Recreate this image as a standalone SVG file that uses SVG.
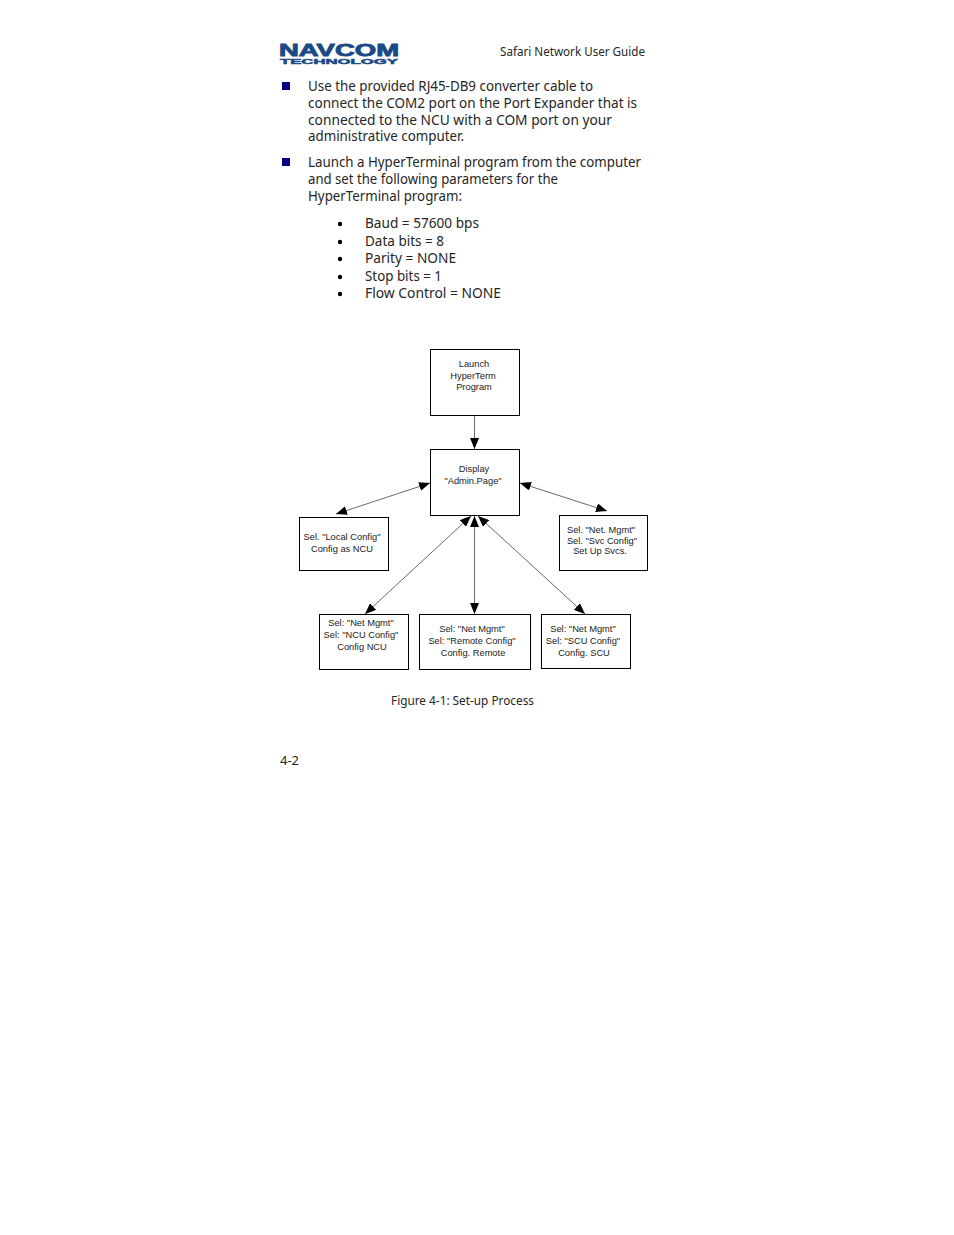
<svg xmlns="http://www.w3.org/2000/svg" width="954" height="1235" viewBox="0 0 954 1235">
<style>
text{font-family:"Noto Sans","Open Sans","Liberation Sans",sans-serif;fill:#262626}
.b{font-size:14px}
.n{font-family:"Liberation Sans",Arial,sans-serif;font-size:9.3px;text-anchor:middle;fill:#222}
.box{fill:#fff;stroke:#000;stroke-width:1}
.c{stroke:#444;stroke-width:.8;fill:none;marker-end:url(#a)}
.d{marker-start:url(#s)}
.sq{fill:#000080}
.dot{fill:#000}
.logo{font-family:"Liberation Sans",Arial,sans-serif;font-weight:700;fill:#1b4a86}
</style>
<defs>
<marker id="a" viewBox="0 0 11 9" refX="11" refY="4.500" markerWidth="11" markerHeight="9" markerUnits="userSpaceOnUse" orient="auto"><path d="M0 0L11 4.500L0 9z" fill="#000"/></marker>
<marker id="s" viewBox="0 0 11 9" refX="0" refY="4.500" markerWidth="11" markerHeight="9" markerUnits="userSpaceOnUse" orient="auto"><path d="M11 0L0 4.500L11 9z" fill="#000"/></marker>
</defs>
<rect width="954" height="1235" fill="#fff"/>
<g id="logo">
<text class="logo" x="279" y="56" font-size="16" textLength="120" lengthAdjust="spacingAndGlyphs" stroke="#1b4a86" stroke-width=".8">NAVCOM</text>
<text class="logo" x="280" y="64" font-size="8" textLength="118" lengthAdjust="spacingAndGlyphs" stroke="#1b4a86" stroke-width=".5">TECHNOLOGY</text>
</g>
<text x="500" y="56" font-size="12.500" textLength="145" lengthAdjust="spacingAndGlyphs">Safari Network User Guide</text>
<rect class="sq" x="282" y="82" width="8" height="8"/>
<text class="b" x="308" y="91" textLength="285" lengthAdjust="spacingAndGlyphs">Use the provided RJ45-DB9 converter cable to</text>
<text class="b" x="308" y="108" textLength="329" lengthAdjust="spacingAndGlyphs">connect the COM2 port on the Port Expander that is</text>
<text class="b" x="308" y="125" textLength="304" lengthAdjust="spacingAndGlyphs">connected to the NCU with a COM port on your</text>
<text class="b" x="308" y="141.400" style="font-size:13.500px" textLength="156" lengthAdjust="spacingAndGlyphs">administrative computer.</text>
<rect class="sq" x="282" y="158" width="8" height="8"/>
<text class="b" x="308" y="167" textLength="333" lengthAdjust="spacingAndGlyphs">Launch a HyperTerminal program from the computer</text>
<text class="b" x="308" y="184" textLength="250" lengthAdjust="spacingAndGlyphs">and set the following parameters for the</text>
<text class="b" x="308" y="201" textLength="154" lengthAdjust="spacingAndGlyphs">HyperTerminal program:</text>
<circle class="dot" cx="340" cy="224" r="2.200"/><text class="b" x="365" y="228" textLength="114" lengthAdjust="spacingAndGlyphs">Baud = 57600 bps</text>
<circle class="dot" cx="340" cy="242" r="2.200"/><text class="b" x="365" y="246" textLength="79" lengthAdjust="spacingAndGlyphs">Data bits = 8</text>
<circle class="dot" cx="340" cy="259" r="2.200"/><text class="b" x="365" y="263" textLength="91" lengthAdjust="spacingAndGlyphs">Parity = NONE</text>
<circle class="dot" cx="340" cy="277" r="2.200"/><text class="b" x="365" y="281" textLength="77" lengthAdjust="spacingAndGlyphs">Stop bits = 1</text>
<circle class="dot" cx="340" cy="294" r="2.200"/><text class="b" x="365" y="298" textLength="136" lengthAdjust="spacingAndGlyphs">Flow Control = NONE</text>
<g id="connectors">
<path class="c" d="M474.500 416V449"/>
<path class="c d" d="M430 483L336 514"/>
<path class="c d" d="M520 483L607 511"/>
<path class="c d" d="M471 516L365 614"/>
<path class="c d" d="M474.500 516V614"/>
<path class="c d" d="M478 516L585 614"/>
</g>
<g id="n1"><rect class="box" x="430.500" y="349.500" width="89" height="66"/><text class="n" x="474" y="367">Launch</text><text class="n" x="473" y="379">HyperTerm</text><text class="n" x="474" y="390">Program</text></g>
<g id="n2"><rect class="box" x="430.500" y="449.500" width="89" height="66"/><text class="n" x="474" y="472">Display</text><text class="n" x="473" y="484">"Admin.Page"</text></g>
<g id="n3"><rect class="box" x="299.500" y="517.500" width="89" height="53"/><text class="n" x="342" y="540">Sel. "Local Config"</text><text class="n" x="342" y="552">Config as NCU</text></g>
<g id="n4"><rect class="box" x="559.500" y="515.500" width="88" height="55"/><text class="n" x="601" y="533">Sel. "Net. Mgmt"</text><text class="n" x="602" y="544">Sel. "Svc Config"</text><text class="n" x="600" y="554">Set Up Svcs.</text></g>
<g id="n5"><rect class="box" x="319.500" y="614.500" width="89" height="55"/><text class="n" x="361" y="626">Sel: "Net Mgmt"</text><text class="n" x="361" y="638">Sel: "NCU Config"</text><text class="n" x="362" y="650">Config NCU</text></g>
<g id="n6"><rect class="box" x="419.500" y="614.500" width="111" height="55"/><text class="n" x="472" y="632">Sel: "Net Mgmt"</text><text class="n" x="472" y="644">Sel: "Remote Config"</text><text class="n" x="473" y="656">Config. Remote</text></g>
<g id="n7"><rect class="box" x="541.500" y="614.500" width="89" height="54"/><text class="n" x="583" y="632">Sel: "Net Mgmt"</text><text class="n" x="583" y="644">Sel: "SCU Config"</text><text class="n" x="584" y="656">Config. SCU</text></g>
<text x="391" y="705" font-size="12.500" textLength="143" lengthAdjust="spacingAndGlyphs">Figure 4-1: Set-up Process</text>
<text x="280" y="765" font-size="12.500" textLength="19" lengthAdjust="spacingAndGlyphs">4-2</text>
</svg>
